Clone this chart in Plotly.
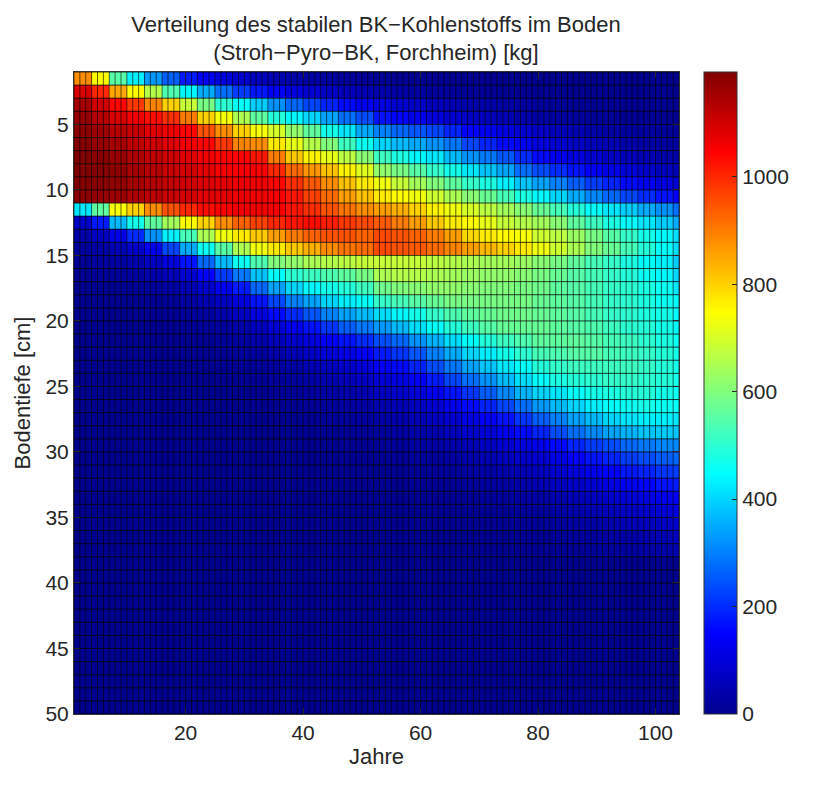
import numpy as np
import plotly.graph_objects as go

YEAR_EDGES = list(range(1, 105))
DEPTH_EDGES = list(range(1, 51))
YEAR_TICKS = [20, 40, 60, 80, 100]
DEPTH_TICKS = [5, 10, 15, 20, 25, 30, 35, 40, 45, 50]
BAR_TICKS = [0, 200, 400, 600, 800, 1000]
CMAX = 1195
BLOCK = 3

# kg, read per depth row: years 2..50 in steps of three
EARLY = [
 [880,750,550,430,330,260,180,135,105,85,65,50,40,30,25,20,15],
 [1090,1000,850,750,660,540,440,350,280,220,175,135,110,90,75,60,50],
 [1150,1100,1040,980,890,800,680,590,500,450,390,320,270,230,190,160,130],
 [1170,1130,1090,1060,1030,990,900,800,740,650,560,490,440,400,340,280,240],
 [1180,1160,1130,1110,1080,1060,1040,950,880,800,740,700,620,560,470,420,350],
 [1190,1170,1150,1120,1100,1080,1060,1040,980,890,880,770,720,660,600,520,460],
 [1195,1185,1165,1140,1120,1100,1080,1060,1040,1040,1020,900,810,760,720,670,610],
 [1195,1190,1175,1150,1130,1110,1095,1075,1055,1050,1050,1000,920,870,820,760,710],
 [1190,1185,1170,1150,1130,1115,1100,1085,1075,1065,1060,1040,990,940,880,820,770],
 [1180,1170,1160,1140,1125,1110,1095,1080,1075,1065,1060,1050,1020,970,920,860,820],
 [420,560,740,800,880,950,1000,1030,1050,1060,1060,1050,1020,990,950,910,880],
 [80,180,370,470,560,640,750,800,880,930,970,1000,1020,1030,1010,980,960],
 [40,70,120,200,320,430,530,650,730,770,810,860,900,930,950,950,930],
 [20,30,50,80,130,230,350,460,550,650,730,770,810,840,880,910,920],
 [10,20,30,45,70,110,170,270,370,460,540,600,620,650,660,670,680],
 [5,10,15,25,40,60,90,150,220,290,380,450,500,520,540,560,590],
 [3,5,8,12,20,35,50,85,130,180,270,340,400,440,470,490,520],
 [2,3,4,6,10,18,30,50,75,110,170,230,300,340,400,430,450],
 [1,2,2,3,5,10,15,25,45,70,110,160,200,250,300,340,370],
 [0,1,1,2,3,5,8,15,25,40,70,100,130,170,210,260,290],
 [0,0,1,1,2,3,5,8,15,25,40,60,85,110,140,170,200],
 [0,0,0,1,1,2,3,5,9,15,25,40,55,75,100,120,145],
 [0,0,0,0,1,1,2,3,5,9,15,25,35,50,65,85,105],
 [0,0,0,0,0,1,1,2,3,5,9,15,22,32,45,60,75],
 [0,0,0,0,0,0,1,1,2,3,5,9,14,20,30,40,50],
 [0,0,0,0,0,0,0,1,1,2,3,5,9,13,20,27,35],
 [0,0,0,0,0,0,0,0,1,1,2,3,5,8,13,18,24],
 [0,0,0,0,0,0,0,0,0,1,1,2,3,5,8,11,16],
 [0,0,0,0,0,0,0,0,0,0,1,1,2,3,5,7,10],
 [0,0,0,0,0,0,0,0,0,0,0,1,1,2,3,5,7],
 [0,0,0,0,0,0,0,0,0,0,0,0,1,1,2,3,4],
 [0,0,0,0,0,0,0,0,0,0,0,0,0,1,1,2,3],
 [0,0,0,0,0,0,0,0,0,0,0,0,0,0,1,1,2],
 [0,0,0,0,0,0,0,0,0,0,0,0,0,0,0,1,1],
 [0,0,0,0,0,0,0,0,0,0,0,0,0,0,0,0,1],
 [0,0,0,0,0,0,0,0,0,0,0,0,0,0,0,0,0],
 [0,0,0,0,0,0,0,0,0,0,0,0,0,0,0,0,0],
]

# kg, same depth rows: years 53..104 in steps of three
LATE = [
 [10,8,6,5,4,3,2,2,1,1,1,1,0,0,0,0,0,0],
 [40,30,25,20,15,12,10,8,6,5,4,3,3,2,2,1,1,1],
 [110,90,75,60,50,40,35,30,25,20,15,12,10,8,6,5,4,3],
 [170,150,125,105,90,75,60,50,40,32,26,20,16,12,10,8,6,5],
 [300,270,250,230,190,150,130,110,90,75,60,50,40,30,25,20,15,12],
 [400,370,350,320,290,230,190,160,130,110,90,75,60,50,40,30,25,20],
 [520,480,440,420,370,320,290,250,200,160,130,110,90,75,60,50,40,35],
 [620,590,550,510,470,420,380,340,280,240,200,170,140,120,100,80,65,55],
 [730,680,640,600,560,510,480,430,380,340,300,260,220,190,160,130,110,90],
 [770,750,730,690,650,610,570,530,480,440,400,350,310,270,230,200,170,140],
 [860,840,800,760,730,700,670,640,610,570,530,490,450,420,390,350,320,280],
 [940,900,860,810,770,750,720,680,660,640,610,560,520,480,450,420,390,350],
 [960,950,930,900,860,790,770,750,740,690,670,630,590,550,510,470,440,410],
 [960,950,940,920,890,860,830,800,770,730,690,650,600,570,530,490,450,410],
 [680,680,680,670,660,650,640,640,630,610,590,560,530,510,480,450,430,390],
 [650,660,660,650,640,630,620,620,610,590,570,550,530,510,490,460,440,400],
 [580,600,610,620,620,610,600,600,590,580,560,550,530,510,500,480,460,420],
 [510,530,550,570,590,590,590,590,590,570,560,550,530,510,500,480,460,440],
 [410,440,470,510,540,560,570,580,580,570,560,550,530,510,500,480,470,440],
 [330,370,410,450,490,520,550,570,570,570,560,550,540,520,500,490,470,440],
 [240,270,320,360,410,450,490,520,540,560,560,560,550,530,520,500,480,460],
 [180,210,250,300,350,400,430,470,500,530,540,550,550,530,520,510,490,470],
 [140,160,190,240,290,340,380,420,450,490,510,520,520,520,520,510,490,470],
 [95,115,135,180,230,280,320,370,410,450,480,490,500,510,510,500,490,470],
 [70,85,100,130,170,210,260,310,360,400,420,450,470,480,490,490,470,460],
 [45,55,70,95,130,160,190,230,280,330,370,400,430,450,460,470,460,450],
 [30,40,50,70,90,115,140,170,210,260,300,340,370,400,420,430,430,420],
 [22,30,38,48,65,85,100,130,160,190,240,280,310,340,360,380,390,380],
 [14,18,25,32,42,55,70,90,110,130,160,190,220,240,270,290,310,310],
 [9,12,17,22,30,40,50,65,80,95,120,145,170,190,220,240,260,270],
 [6,8,11,15,20,28,35,45,55,70,90,105,130,150,175,190,210,220],
 [4,5,7,10,14,18,24,30,40,50,65,80,95,115,135,150,170,180],
 [2,3,5,7,9,12,16,20,28,35,45,60,70,85,100,115,130,140],
 [1,2,3,4,6,8,10,14,18,24,32,42,50,60,75,85,100,110],
 [1,1,2,3,4,5,7,9,12,16,22,28,35,42,55,62,75,85],
 [0,1,1,2,2,3,4,6,8,11,15,20,25,30,38,45,55,65],
 [0,0,1,1,1,2,3,4,5,7,10,13,17,21,27,32,40,48],
]
DEEP_ROWS = 12  # rows 38..49 read as zero over all years

JET = [[0, "rgb(0,0,143)"], [0.125, "rgb(0,0,255)"], [0.375, "rgb(0,255,255)"],
       [0.625, "rgb(255,255,0)"], [0.875, "rgb(255,0,0)"], [1, "rgb(128,0,0)"]]

read = np.hstack([np.array(EARLY), np.array(LATE)])
read = np.vstack([read, np.zeros((DEEP_ROWS, read.shape[1]))])
z = np.repeat(read, BLOCK, axis=1)[:, :len(YEAR_EDGES) - 1]

FONT = "Liberation Sans, Arial, sans-serif"
INK = "#262626"


def cell_edges(fixed_span, edges):
    """Polyline pieces along one axis at every cell edge of the other axis."""
    along, across = [], []
    for e in edges:
        along += [fixed_span[0], fixed_span[-1], None]
        across += [e, e, None]
    return along, across


fig = go.Figure(go.Heatmap(
    x=YEAR_EDGES, y=DEPTH_EDGES, z=z, zmin=0, zmax=CMAX, colorscale=JET,
    colorbar=dict(
        x=1.0413, xanchor="left", xpad=0, y=0.5, yanchor="middle", ypad=0,
        len=1, lenmode="fraction", thickness=33, thicknessmode="pixels",
        tickvals=BAR_TICKS, ticks="inside", ticklen=5, tickcolor=INK,
        outlinecolor="#333", outlinewidth=1,
        tickfont=dict(family=FONT, size=21, color=INK),
    ),
))
vy, vx = cell_edges(DEPTH_EDGES, YEAR_EDGES)
fig.add_trace(go.Scatter(x=vx, y=vy, mode="lines", hoverinfo="skip", showlegend=False,
                         line=dict(color="rgba(0,0,0,0.6)", width=1)))
hx, hy = cell_edges(YEAR_EDGES, DEPTH_EDGES)
fig.add_trace(go.Scatter(x=hx, y=hy, mode="lines", hoverinfo="skip", showlegend=False,
                         line=dict(color="rgba(0,0,0,0.75)", width=1)))

fig.update_layout(
    width=807, height=769, autosize=False,
    margin=dict(l=66, r=136, t=64, b=61),
    paper_bgcolor="white", plot_bgcolor="black",
    font=dict(family=FONT, size=21, color=INK),
    title=dict(
        text="Verteilung des stabilen BK−Kohlenstoffs im Boden<br>(Stroh−Pyro−BK, Forchheim) [kg]",
        x=0.456, xanchor="center", xref="container",
        y=0.969, yanchor="middle", yref="container",
        font=dict(family=FONT, size=22, color=INK),
    ),
)
fig.update_xaxes(range=[1, 104], tickvals=YEAR_TICKS, ticks="inside", ticklen=6,
                 tickcolor=INK, showgrid=False, zeroline=False,
                 showline=True, linecolor="#333", linewidth=1, mirror="ticks",
                 title=dict(text="Jahre", standoff=5, font=dict(size=22)))
fig.update_yaxes(range=[50, 1], tickvals=DEPTH_TICKS, ticks="inside", ticklen=6,
                 tickcolor=INK, showgrid=False, zeroline=False,
                 showline=True, linecolor="#333", linewidth=1, mirror="ticks",
                 title=dict(text="Bodentiefe [cm]", standoff=8, font=dict(size=22)))
fig.write_html("out.html")
